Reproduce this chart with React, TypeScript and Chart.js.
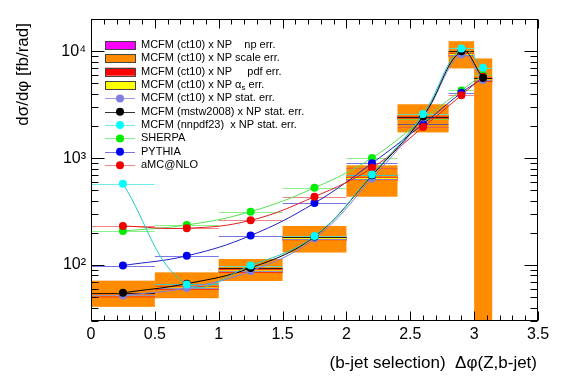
import React, { useEffect, useRef } from "react";
import { Chart, registerables } from "chart.js";

Chart.register(...registerables);

// ---- data ----
const binLow = [0, 0.5, 1.0, 1.5, 2.0, 2.4, 2.8, 3.0];
const binHigh = [0.5, 1.0, 1.5, 2.0, 2.4, 2.8, 3.0, 3.1416];
const binCenter = [0.25, 0.75, 1.25, 1.75, 2.2, 2.6, 2.9, 3.07];

const ct10Stat = [52, 61, 88, 177, 645, 2400, 9300, 5370];
const scaleLow = [40.7, 49, 71, 131, 436, 1740, 6900, 1];
const scaleHigh = [71.5, 85.5, 114, 232, 857, 3190, 12400, 8550];
const npLow = [49, 58, 83, 167, 610, 2270, 8800, 5080];
const npHigh = [55, 64, 93, 187, 680, 2530, 9800, 5660];
const pdfLow = [50, 59, 85, 171, 623, 2320, 8990, 5190];
const pdfHigh = [54, 63, 91, 183, 667, 2480, 9610, 5550];
const alphasLow = [51, 60, 86.5, 174, 634, 2360, 9140, 5280];
const alphasHigh = [53, 62, 89.5, 180, 656, 2440, 9460, 5460];
const mstw = [55, 67, 94, 185, 690, 2450, 10000, 5600];
const nnpdf = [575, 66, 99, 187, 703, 2590, 10600, 7000];
const sherpa = [208, 237, 316, 528, 1004, 2314, 4300, 6000];
const pythia = [99, 122, 189, 380, 895, 2080, 4090, 5600];
const amcnlo = [232, 221, 262, 436, 811, 1950, 3870, 5770];

const xTicks = [0, 0.5, 1, 1.5, 2, 2.5, 3, 3.5];
const yTicks = [100, 1000, 10000];
const yTickLabels = ["10\u00B2", "10\u00B3", "10\u2074"];

const FONT = "'Liberation Sans', Arial, Helvetica, sans-serif";

type Series = {
  label: string;
  values: number[];
  color: string;
  line: string;
  bar: string;
  order: number;
};

const seriesList: Series[] = [
  { label: "MCFM (ct10) x NP stat. err.", values: ct10Stat, color: "#7f7fe0", line: "#7f7fe0", bar: "rgba(127,127,224,0.8)", order: 3 },
  { label: "MCFM (mstw2008) x NP stat. err.", values: mstw, color: "#000000", line: "#000000", bar: "rgba(0,0,0,0.8)", order: 2 },
  { label: "MCFM (nnpdf23)  x NP stat. err.", values: nnpdf, color: "#00ffff", line: "#22c8c8", bar: "rgba(80,230,230,0.8)", order: 1 },
  { label: "SHERPA", values: sherpa, color: "#00ee00", line: "#55e055", bar: "rgba(90,235,90,0.7)", order: 6 },
  { label: "PYTHIA", values: pythia, color: "#0000ee", line: "#2020c8", bar: "rgba(60,60,220,0.7)", order: 5 },
  { label: "aMC@NLO", values: amcnlo, color: "#ee0000", line: "#e02020", bar: "rgba(235,80,80,0.7)", order: 4 },
];

type Band = { label: string; lo: number[]; hi: number[]; color: string };
const bands: Band[] = [
  { label: "MCFM (ct10) x NP    np err.", lo: npLow, hi: npHigh, color: "#ff00ff" },
  { label: "MCFM (ct10) x NP scale err.", lo: scaleLow, hi: scaleHigh, color: "#ff8c00" },
  { label: "MCFM (ct10) x NP     pdf err.", lo: pdfLow, hi: pdfHigh, color: "#ff0000" },
  { label: "MCFM (ct10) x NP \u03B1", lo: alphasLow, hi: alphasHigh, color: "#ffff00" },
];

const bandsPlugin = {
  id: "bandsPlugin",
  beforeDatasetsDraw(chart: any) {
    const { ctx, chartArea: a, scales } = chart;
    const x = scales.x;
    const y = scales.y;
    ctx.save();
    ctx.beginPath();
    ctx.rect(a.left, a.top, a.right - a.left, a.bottom - a.top);
    ctx.clip();
    bands.forEach((b) => {
      ctx.fillStyle = b.color;
      for (let i = 0; i < binLow.length; i++) {
        const x0 = x.getPixelForValue(binLow[i]);
        const x1 = x.getPixelForValue(binHigh[i]);
        const yHi = y.getPixelForValue(b.hi[i]);
        const yLo = Math.min(y.getPixelForValue(b.lo[i]), a.bottom + 5);
        ctx.fillRect(x0, yHi, x1 - x0, yLo - yHi);
      }
    });
    // horizontal bin-width error bars
    seriesList
      .slice()
      .sort((p, q) => q.order - p.order)
      .forEach((s) => {
        ctx.strokeStyle = s.bar;
        ctx.lineWidth = 1;
        for (let i = 0; i < binLow.length; i++) {
          const x0 = x.getPixelForValue(binLow[i]);
          const x1 = x.getPixelForValue(binHigh[i]);
          const yy = Math.round(y.getPixelForValue(s.values[i])) + 0.5;
          ctx.beginPath();
          ctx.moveTo(x0, yy);
          ctx.lineTo(x1, yy);
          ctx.stroke();
        }
      });
    ctx.restore();
  },
};

const framePlugin = {
  id: "framePlugin",
  afterDraw(chart: any) {
    const { ctx, chartArea: a, scales } = chart;
    const x = scales.x;
    const y = scales.y;
    ctx.save();
    ctx.strokeStyle = "#000";
    ctx.lineWidth = 1;
    const L = Math.round(a.left) + 0.5;
    const R = Math.round(a.right) - 0.5;
    const T = Math.round(a.top) + 0.5;
    const B = Math.round(a.bottom) - 0.5;
    ctx.strokeRect(L, T, R - L, B - T);
    ctx.beginPath();
    // x ticks
    for (let i = 0; i <= 35; i++) {
      const v = i / 10;
      const px = Math.round(x.getPixelForValue(v)) + 0.5;
      const len = i % 5 === 0 ? 9 : 5;
      ctx.moveTo(px, B);
      ctx.lineTo(px, B - len);
      ctx.moveTo(px, T);
      ctx.lineTo(px, T + len);
    }
    // y ticks (log)
    for (let d = 1; d <= 4; d++) {
      for (let m = 1; m <= 9; m++) {
        const v = m * Math.pow(10, d);
        if (v < y.min || v > y.max) continue;
        const py = Math.round(y.getPixelForValue(v)) + 0.5;
        const len = m === 1 ? 13 : 7;
        ctx.moveTo(L, py);
        ctx.lineTo(L + len, py);
        ctx.moveTo(R, py);
        ctx.lineTo(R - len, py);
      }
    }
    ctx.stroke();

    // axis titles
    ctx.fillStyle = "#000";
    ctx.font = `17px ${FONT}`;
    ctx.textAlign = "right";
    ctx.textBaseline = "middle";
    ctx.fillText("(b-jet selection)  \u0394\u03C6(Z,b-jet)", 537, 363);
    ctx.save();
    ctx.translate(23, 23);
    ctx.rotate(-Math.PI / 2);
    ctx.textAlign = "right";
    ctx.fillText("d\u03C3/d\u03C6 [fb/rad]", 0, 0);
    ctx.restore();

    // legend
    const lx0 = 105;
    const lx1 = 135;
    const tx = 141;
    let ry = 45;
    const dy = 13.35;
    ctx.font = `11px ${FONT}`;
    ctx.textAlign = "left";
    ctx.textBaseline = "middle";
    bands.forEach((b, idx) => {
      ctx.fillStyle = b.color;
      ctx.fillRect(lx0, ry - 4, lx1 - lx0, 8);
      ctx.strokeStyle = "#444";
      ctx.strokeRect(lx0 + 0.5, Math.round(ry - 4) + 0.5, lx1 - lx0, 8);
      ctx.fillStyle = "#000";
      ctx.fillText(b.label, tx, ry);
      if (idx === 3) {
        const w = ctx.measureText(b.label).width;
        ctx.font = `8px ${FONT}`;
        ctx.fillText("s", tx + w, ry + 3);
        const ws = ctx.measureText("s").width;
        ctx.font = `11px ${FONT}`;
        ctx.fillText(" err.", tx + w + ws, ry);
      }
      ry += dy;
    });
    seriesList.forEach((s) => {
      ctx.strokeStyle = s.bar;
      ctx.beginPath();
      const yy = Math.round(ry) + 0.5;
      ctx.moveTo(lx0, yy);
      ctx.lineTo(lx1, yy);
      ctx.stroke();
      ctx.fillStyle = s.color;
      ctx.beginPath();
      ctx.arc((lx0 + lx1) / 2, ry, 4, 0, Math.PI * 2);
      ctx.fill();
      ctx.fillStyle = "#000";
      ctx.fillText(s.label, tx, ry);
      ry += dy;
    });
    ctx.restore();
  },
};

export default function App() {
  const ref = useRef<HTMLCanvasElement | null>(null);
  useEffect(() => {
    if (!ref.current) return;
    const chart = new Chart(ref.current, {
      type: "line",
      data: {
        datasets: seriesList.map((s) => ({
          label: s.label,
          data: binCenter.map((c, i) => ({ x: c, y: s.values[i] })),
          borderColor: s.line,
          backgroundColor: s.color,
          pointBackgroundColor: s.color,
          pointBorderColor: s.color,
          pointRadius: 4,
          pointBorderWidth: 0,
          borderWidth: 1,
          tension: 0.4,
          fill: false,
          order: s.order,
          clip: 0,
        })),
      },
      options: {
        animation: false,
        responsive: false,
        maintainAspectRatio: false,
        events: [],
        layout: { padding: { top: 19, right: 29, left: 0, bottom: 0 } },
        plugins: {
          legend: { display: false },
          tooltip: { enabled: false },
        },
        scales: {
          x: {
            type: "linear",
            min: 0,
            max: 3.5,
            grid: { display: false, drawTicks: false },
            border: { display: false },
            afterBuildTicks: (scale: any) => {
              scale.ticks = xTicks.map((v) => ({ value: v }));
            },
            afterFit: (scale: any) => {
              scale.height = 63;
            },
            ticks: {
              padding: 4,
              color: "#000",
              font: { size: 16, family: FONT },
              maxRotation: 0,
              autoSkip: false,
              callback: (v: any) => String(v),
            },
          },
          y: {
            type: "logarithmic",
            min: 30,
            max: 20000,
            grid: { display: false, drawTicks: false },
            border: { display: false },
            afterBuildTicks: (scale: any) => {
              scale.ticks = yTicks.map((v) => ({ value: v }));
            },
            afterFit: (scale: any) => {
              scale.width = 91;
            },
            ticks: {
              padding: 5,
              color: "#000",
              font: { size: 16, family: FONT },
              autoSkip: false,
              callback: (v: any) => {
                const i = yTicks.indexOf(Number(v));
                return i >= 0 ? yTickLabels[i] : "";
              },
            },
          },
        },
      },
      plugins: [bandsPlugin, framePlugin],
    });
    return () => chart.destroy();
  }, []);
  return (
    <div style={{ position: "fixed", left: 0, top: 0, width: 567, height: 384, background: "#fff" }}>
      <canvas ref={ref} width={567} height={384} style={{ display: "block" }} />
    </div>
  );
}
